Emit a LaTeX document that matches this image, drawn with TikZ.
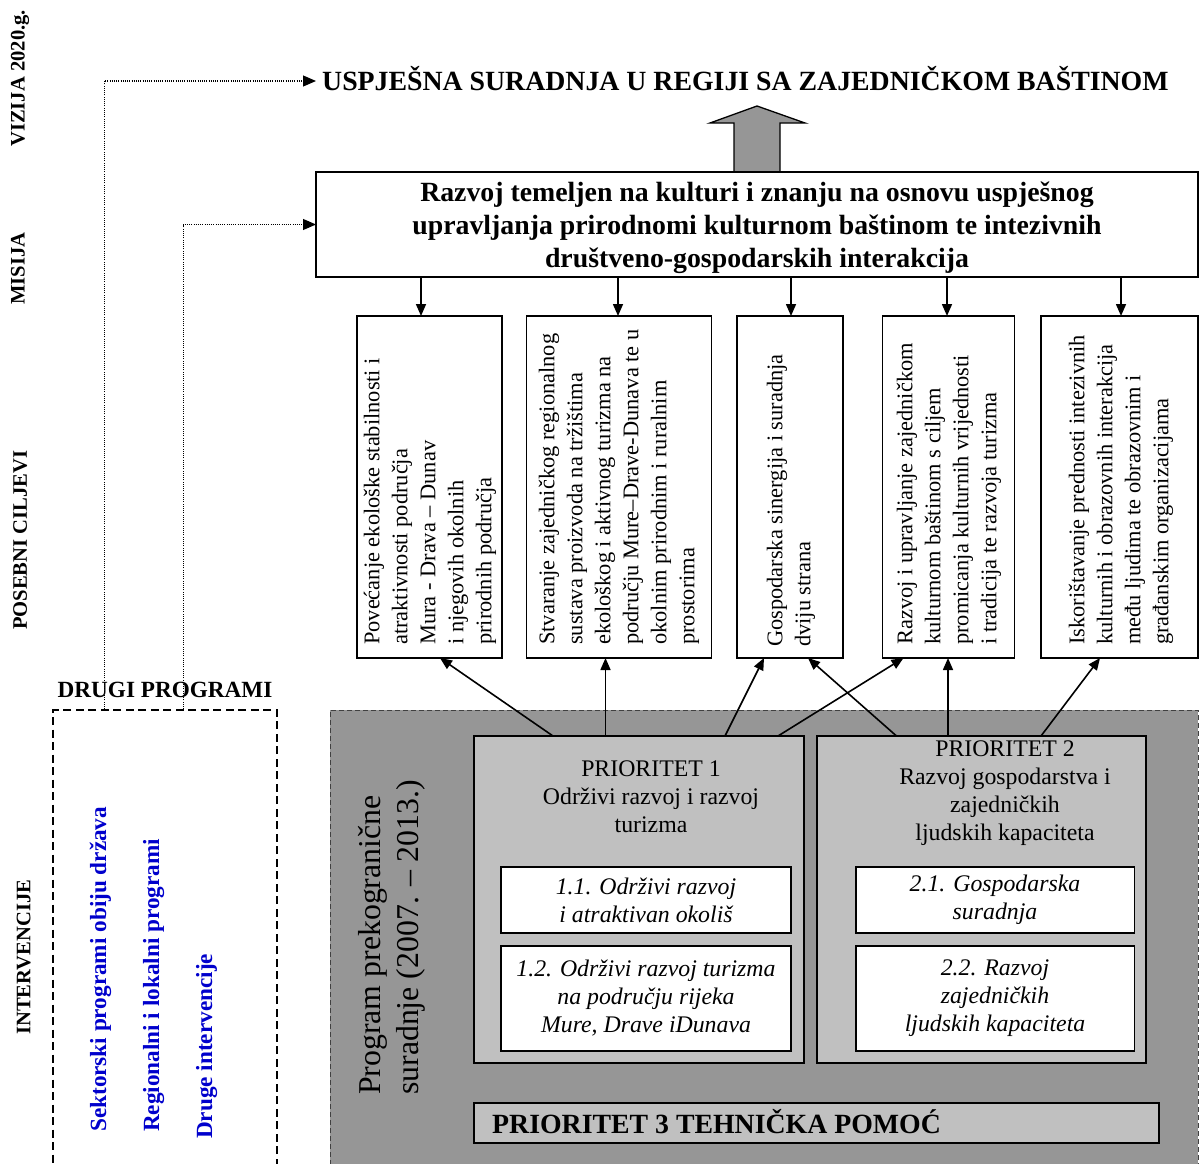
\documentclass[tikz,border=0pt]{standalone}
\usepackage{fontspec}
\setmainfont{Liberation Serif}
\usetikzlibrary{arrows.meta,calc}
\definecolor{dgray}{RGB}{150,150,150}
\definecolor{lgray}{RGB}{192,192,192}
\definecolor{dblue}{RGB}{0,0,204}
\newcommand{\myfA}{\fontsize{27.8}{33}\selectfont}
\newcommand{\myfB}{\fontsize{23.8}{28}\selectfont}
\newcommand{\myfG}{\fontsize{22.4}{28}\selectfont}
\newcommand{\myfC}{\fontsize{20.6}{24}\selectfont}
\newcommand{\myfD}{\fontsize{23.2}{28}\selectfont}
\newcommand{\myfE}{\fontsize{31.8}{38}\selectfont}
\begin{document}
\begin{tikzpicture}[x=1pt,y=-1pt,
  box/.style={draw, line width=1.5pt, inner sep=0pt, outer sep=0pt},
  arr/.style={line width=1.6pt, -{Triangle[length=12pt,width=10pt]}},
  dotarr/.style={line width=1.1pt, dash pattern=on 1pt off 1.2pt, -{Triangle[length=13pt,width=11pt]}},
  lbl/.style={font=\myfC\bfseries, rotate=90, anchor=base west, inner sep=0pt},
  blu/.style={font=\myfD\bfseries, text=dblue, rotate=90, anchor=base west, inner sep=0pt},
  gtext/.style={font=\myfG, rotate=90, anchor=west, align=left, inner sep=0pt},
  ptext/.style={font=\myfB, align=center, inner sep=0pt},
  subbox/.style={box, fill=white, font=\myfB\itshape, align=center}]
\useasboundingbox (0,0) rectangle (1199,1164);
\clip (0,0) rectangle (1199,1164);

% left labels
\node[lbl] (vz) at (24.5,147) {VIZIJA 2020.g.};
\node[lbl] (ms) at (24.5,305) {MISIJA};
\node[lbl] (pc) at (27,630) {POSEBNI CILJEVI};
\node[lbl] (iv) at (30.5,1035) {INTERVENCIJE};

% title and mission
\node[font=\myfA\bfseries, inner xsep=6pt, inner ysep=0pt, anchor=base west] (title) at (316,90) {USPJEŠNA SURADNJA U REGIJI SA ZAJEDNIČKOM BAŠTINOM};
\draw[line width=1.3pt, fill=dgray] (734,172.5) -- (734,123) -- (710,123) -- (757,106) -- (805,123) -- (780,123) -- (780,172.5);
\node[box, line width=2pt, fill=white, minimum width=882pt, minimum height=104.5pt] (m) at (757,224.5) {};
\node[font=\myfA\bfseries, align=center, inner sep=0pt] (mt) at (757,228)
  {Razvoj temeljen na kulturi i znanju na osnovu uspješnog\\upravljanja prirodnomi kulturnom baštinom te intezivnih\\društveno-gospodarskih interakcija};

% goal boxes
\node[box, minimum width=145pt, minimum height=342pt] (g1) at (429.5,487) {};
\node[box, minimum width=185pt, minimum height=342pt] (g2) at (619,487) {};
\node[box, minimum width=106pt, minimum height=342pt] (g3) at (790,487) {};
\node[box, minimum width=132pt, minimum height=342pt] (g4) at (948.5,487) {};
\node[box, minimum width=157pt, minimum height=342pt] (g5) at (1119.5,487) {};
\node[gtext] (g1t) at (430,645) {Povećanje ekološke stabilnosti i\\atraktivnosti područja\\Mura - Drava – Dunav\\i njegovih okolnih\\prirodnih područja};
\node[gtext] (g2t) at (619,645) {Stvaranje zajedničkog regionalnog\\sustava proizvoda na tržištima\\ekološkog i aktivnog turizma na\\području Mure–Drave-Dunava te u\\okolnim prirodnim i ruralnim\\prostorima};
\node[gtext] (g3t) at (791,647) {Gospodarska sinergija i suradnja\\dviju strana};
\node[gtext] (g4t) at (949,645) {Razvoj i upravljanje zajedničkom\\kulturnom baštinom s ciljem\\promicanja kulturnih vrijednosti\\i tradicija te razvoja turizma};
\node[gtext] (g5t) at (1121,645) {Iskorištavanje prednosti intezivnih\\kulturnih i obrazovnih interakcija\\među ljudima te obrazovnim i\\građanskim organizacijama};

\coordinate (g1a) at ([xshift=64pt]g1.north west);
\coordinate (g2a) at ([xshift=91.5pt]g2.north west);
\coordinate (g3a) at ([xshift=54pt]g3.north west);
\coordinate (g4a) at ([xshift=64.5pt]g4.north west);
\coordinate (g5a) at ([xshift=80pt]g5.north west);
\foreach \g in {g1a,g2a,g3a,g4a,g5a} \draw[arr] (m.south -| \g) -- (\g);

% other programmes
\node[draw, dash pattern=on 8pt off 4.5pt, line width=1.6pt, minimum width=224pt, minimum height=470pt, inner sep=0pt] (dp) at (165,945) {};
\node[font=\myfD\bfseries, anchor=base, inner sep=0pt] (dpl) at (165,697) {DRUGI PROGRAMI};
\node[blu] (b1) at (106,1132) {Sektorski programi obiju država};
\node[blu] (b2) at (159,1132) {Regionalni i lokalni programi};
\node[blu] (b3) at (212,1139) {Druge intervencije};
\coordinate (d1) at ([xshift=52pt]dp.north west);
\coordinate (d2) at ([xshift=131pt]dp.north west);
\draw[dotarr] (d1) |- ([yshift=9pt]title.base west);
\draw[dotarr] (d2) |- (m.west);

% programme region
\node[draw=black!75, dash pattern=on 5pt off 3pt, line width=0.9pt, fill=dgray, minimum width=868pt, minimum height=470pt, inner sep=0pt] (prog) at (764,945) {};
\node[font=\myfE, rotate=90, anchor=west, align=left, inner sep=0pt] (prt) at (392,1095) {Program prekogranične\\suradnje (2007. – 2013.)};

\node[box, fill=lgray, minimum width=330pt, minimum height=327pt] (p1) at (639,899.5) {};
\node[box, fill=lgray, minimum width=329pt, minimum height=327pt] (p2) at (981.5,899.5) {};
\node[ptext] (p1t) at (651,797) {PRIORITET 1\\Održivi razvoj i razvoj\\turizma};
\node[ptext] (p2t) at (1005,793) {PRIORITET 2\\Razvoj gospodarstva i\\zajedničkih\\ljudskih kapaciteta};

\node[subbox, minimum width=290pt, minimum height=66pt] (s11) at (646,900) {1.1. Održivi razvoj\\i atraktivan okoliš};
\node[subbox, minimum width=290pt, minimum height=105pt] (s12) at (646,998.5) {1.2. Održivi razvoj turizma\\na području rijeka\\Mure, Drave iDunava};
\node[subbox, minimum width=278.5pt, minimum height=66pt] (s21) at (995,900) {2.1. Gospodarska\\suradnja};
\node[subbox, minimum width=278.5pt, minimum height=105pt] (s22) at (995,998.5) {2.2. Razvoj\\zajedničkih\\ljudskih kapaciteta};

\node[box, fill=lgray, minimum width=685pt, minimum height=40pt] (p3) at (816.5,1123) {};
\node[font=\myfA\bfseries, anchor=base west, inner sep=0pt] (p3t) at (492,1133) {PRIORITET 3 TEHNIČKA POMOĆ};

% priority -> goal arrows
\draw[arr] ([xshift=79pt]p1.north west) -- ([xshift=83pt]g1.south west);
\draw[arr] ([xshift=131.5pt]p1.north west) -- ([xshift=79pt]g2.south west);
\draw[arr] ([xshift=251pt]p1.north west) -- ([xshift=27pt]g3.south west);
\draw[arr] ([xshift=304pt]p1.north west) -- ([xshift=21pt]g4.south west);
\draw[arr] ([xshift=79.5pt]p2.north west) -- ([xshift=71pt]g3.south west);
\draw[arr] ([xshift=131pt]p2.north west) -- ([xshift=65.5pt]g4.south west);
\draw[arr] ([xshift=224pt]p2.north west) -- ([xshift=59pt]g5.south west);
\end{tikzpicture}
\end{document}
